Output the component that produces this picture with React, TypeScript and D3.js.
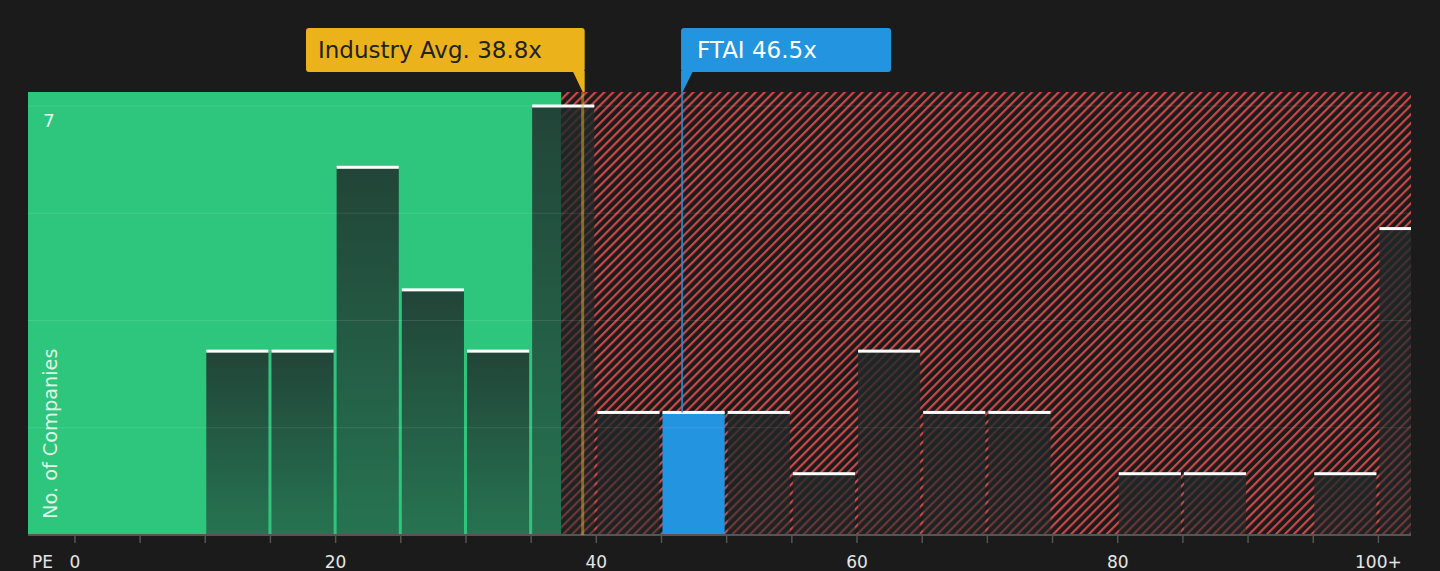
import * as d3 from "d3";

const W = 1440;
const H = 571;
const PLOT_L = 28;
const PLOT_R = 1411;
const PLOT_T = 92;
const PLOT_B = 535;

// PE bins (width 5), last one is "100+"
const BIN_STARTS = [0, 5, 10, 15, 20, 25, 30, 35, 40, 45, 50, 55, 60, 65, 70, 75, 80, 85, 90, 95, 100];
const COUNTS = [0, 0, 3, 3, 6, 4, 3, 7, 2, 2, 2, 1, 3, 2, 2, 0, 1, 1, 0, 1, 5];
const BIN_W = 5;

const X_TICKS = [0, 20, 40, 60, 80, 100];
const X_TICK_LABELS = ["0", "20", "40", "60", "80", "100+"];
const Y_GRID = [1.75, 3.5, 5.25, 7];
const Y_LABELS = [7];

const INDUSTRY_AVG = 38.8;
const COMPANY = "FTAI";
const COMPANY_PE = 46.5;
const FAIR_END = 37.3;

const BG = "#1b1b1b";
const GREEN = "#2ec67d";
const RED = "#d24a4a";
const YELLOW = "#ecb21c";
const BLUE = "#2394df";
const FONT = "DejaVu Sans, sans-serif";

export default function App() {
  const x = d3.scaleLinear().domain([-3.6, 102.5]).range([PLOT_L, PLOT_R]);
  const y = d3.scaleLinear().domain([0, 7]).range([PLOT_B, 106]);
  const minorTicks = d3.range(0, 101, 5);

  const bars = BIN_STARTS.map((b, i) => {
    const x0 = x(b) + 1;
    const x1 = Math.min(x(b + BIN_W) - 2, PLOT_R);
    return {
      b,
      count: COUNTS[i],
      x0,
      w: x1 - x0,
      top: y(COUNTS[i]),
      isCompany: COMPANY_PE >= b && COMPANY_PE < b + BIN_W,
    };
  });

  const xAvg = x(INDUSTRY_AVG);
  const xCo = x(COMPANY_PE);
  const coBar = bars.find((d) => d.isCompany)!;

  return (
    <svg
      width={W}
      height={H}
      style={{ position: "absolute", left: 0, top: 0, background: BG, fontFamily: FONT }}
    >
      <defs>
        <pattern
          id="hatch"
          width={6.3}
          height={6.3}
          patternUnits="userSpaceOnUse"
          patternTransform="rotate(45)"
        >
          <rect width={6.3} height={6.3} fill={BG} />
          <line x1={1.1} y1={0} x2={1.1} y2={6.3} stroke={RED} strokeWidth={2.1} />
        </pattern>
        <linearGradient id="barFade" x1="0" y1="0" x2="0" y2="1">
          <stop offset="0%" stopColor="#1f2829" stopOpacity={0.82} />
          <stop offset="100%" stopColor="#1f2829" stopOpacity={0.52} />
        </linearGradient>
        <clipPath id="plotClip">
          <rect x={PLOT_L} y={PLOT_T} width={PLOT_R - PLOT_L} height={PLOT_B - PLOT_T} />
        </clipPath>
      </defs>

      <rect width={W} height={H} fill={BG} />

      {/* zones */}
      <rect x={PLOT_L} y={PLOT_T} width={x(FAIR_END) - PLOT_L} height={PLOT_B - PLOT_T} fill={GREEN} />
      <rect
        x={x(FAIR_END)}
        y={PLOT_T}
        width={PLOT_R - x(FAIR_END)}
        height={PLOT_B - PLOT_T}
        fill="url(#hatch)"
      />

      {/* bars */}
      <g clipPath="url(#plotClip)">
        {bars
          .filter((d) => d.count > 0)
          .map((d) => (
            <g key={d.b}>
              <rect
                x={d.x0}
                y={d.top}
                width={d.w}
                height={PLOT_B - d.top}
                fill={d.isCompany ? BLUE : "url(#barFade)"}
              />
              <rect x={d.x0} y={d.top - 1.5} width={d.w} height={3} fill="#ffffff" />
            </g>
          ))}
      </g>

      {/* grid */}
      <g stroke="#ffffff" strokeOpacity={0.1} strokeWidth={1.2}>
        {Y_GRID.map((v) => (
          <line key={v} x1={PLOT_L} x2={PLOT_R} y1={y(v)} y2={y(v)} />
        ))}
      </g>

      {/* y labels */}
      {Y_LABELS.map((v) => (
        <text key={v} x={43} y={y(v) + 21} fill="#ffffff" fillOpacity={0.9} fontSize={18.5}>
          {v}
        </text>
      ))}
      <text
        transform={`translate(57,519) rotate(-90)`}
        fill="#ffffff"
        fillOpacity={0.85}
        fontSize={19.3}
      >
        No. of Companies
      </text>

      {/* x axis */}
      <line x1={PLOT_L} x2={PLOT_R} y1={PLOT_B} y2={PLOT_B} stroke="#555" strokeWidth={2} />
      <g stroke="#555" strokeWidth={1.5}>
        {minorTicks.map((t) => (
          <line key={t} x1={x(t)} x2={x(t)} y1={PLOT_B} y2={PLOT_B + 8} />
        ))}
      </g>
      <text x={32} y={568} fill="#e6e6e6" fontSize={17}>
        PE
      </text>
      {X_TICKS.map((t, i) => (
        <text key={t} x={x(t)} y={568} fill="#e6e6e6" fontSize={17} textAnchor="middle">
          {X_TICK_LABELS[i]}
        </text>
      ))}

      {/* industry average marker */}
      <line x1={xAvg + 2} x2={xAvg + 2} y1={PLOT_T} y2={PLOT_B} stroke={YELLOW} strokeOpacity={0.5} strokeWidth={3} />
      <rect x={306} y={28} width={xAvg + 4 - 306} height={44} rx={3} fill={YELLOW} />
      <path
        d={`M${xAvg - 8},71 L${xAvg + 4},71 L${xAvg + 4},${PLOT_T} L${xAvg + 2},${PLOT_T} Z`}
        fill={YELLOW}
      />
      <text x={318} y={58} fill="#222222" fontSize={23}>
        Industry Avg. {INDUSTRY_AVG}x
      </text>

      {/* company marker */}
      <line x1={xCo + 1} x2={xCo + 1} y1={PLOT_T} y2={coBar.top} stroke={BLUE} strokeWidth={1.5} />
      <rect x={xCo} y={28} width={210} height={44} rx={3} fill={BLUE} />
      <path d={`M${xCo},71 L${xCo + 12},71 L${xCo + 1.5},${PLOT_T} L${xCo},${PLOT_T} Z`} fill={BLUE} />
      <text x={xCo + 16} y={58} fill="#ffffff" fontSize={23}>
        {COMPANY} {COMPANY_PE}x
      </text>
    </svg>
  );
}
